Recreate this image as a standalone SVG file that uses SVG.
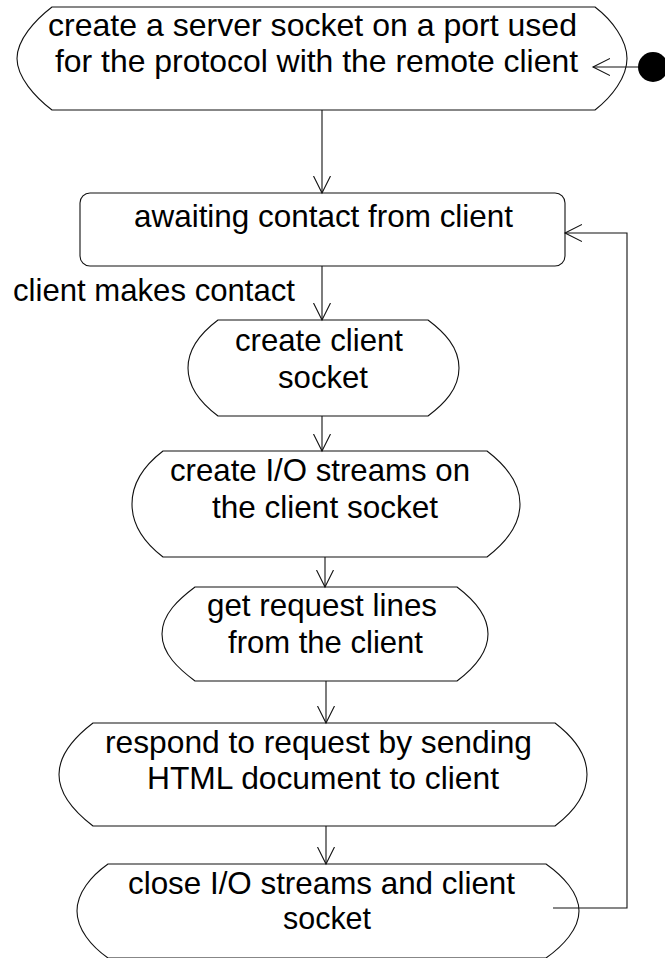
<svg xmlns="http://www.w3.org/2000/svg" width="665" height="958" viewBox="0 0 665 958">
  <style>
    .shape { fill: #fff; stroke: #111; stroke-width: 1.1; }
    .edge { fill: none; stroke: #111; stroke-width: 1.1; }
    text { font-family: "Liberation Sans", Arial, sans-serif; font-size: 32px; fill: #000; }
  </style>
  <defs>
    <marker id="open-arrow" markerUnits="userSpaceOnUse" markerWidth="20" markerHeight="20" refX="17" refY="9" orient="auto">
      <path d="M0,0.5 L17,9 L0,17.5" fill="none" stroke="#111" stroke-width="1.1"/>
    </marker>
  </defs>
  <rect width="665" height="958" fill="#fff"/>

  <!-- action states -->
  <g id="create-server-socket">
    <path class="shape" d="M52,7 H595 C612,20 627,40 627,58.5 C627,77 612,97 595,110 H52 C35,97 17,77 17,58.5 C17,40 35,20 52,7 Z"/>
    <text x="48" y="36" textLength="529" lengthAdjust="spacingAndGlyphs">create a server socket on a port used</text>
    <text x="55" y="72" textLength="523" lengthAdjust="spacingAndGlyphs">for the protocol with the remote client</text>
  </g>

  <g id="awaiting-contact">
    <rect class="shape" x="80" y="193" width="485" height="73" rx="10"/>
    <text x="134" y="227" textLength="379" lengthAdjust="spacingAndGlyphs">awaiting contact from client</text>
  </g>

  <g id="create-client-socket">
    <path class="shape" d="M218,320 H428 C444,332 459,347 459,368 C459,389 444,404 428,416 H218 C202,404 188,389 188,368 C188,347 202,332 218,320 Z"/>
    <text x="235" y="351" textLength="168" lengthAdjust="spacingAndGlyphs">create client</text>
    <text x="278" y="388" textLength="90" lengthAdjust="spacingAndGlyphs">socket</text>
  </g>

  <g id="create-io-streams">
    <path class="shape" d="M163,451 H487 C504,464 520,481 520,504 C520,527 504,544 487,557 H163 C146,544 132,527 132,504 C132,481 146,464 163,451 Z"/>
    <text x="170" y="481" textLength="300" lengthAdjust="spacingAndGlyphs">create I/O streams on</text>
    <text x="212" y="518" textLength="226" lengthAdjust="spacingAndGlyphs">the client socket</text>
  </g>

  <g id="get-request-lines">
    <path class="shape" d="M195,587 H457 C473,599 488,614 488,634 C488,654 473,669 457,681 H195 C179,669 162,654 162,634 C162,614 179,599 195,587 Z"/>
    <text x="207" y="616" textLength="230" lengthAdjust="spacingAndGlyphs">get request lines</text>
    <text x="228" y="653" textLength="195" lengthAdjust="spacingAndGlyphs">from the client</text>
  </g>

  <g id="respond-to-request">
    <path class="shape" d="M93,723 H555 C572,736 587,754 587,774.5 C587,795 572,813 555,826 H93 C76,813 59,795 59,774.5 C59,754 76,736 93,723 Z"/>
    <text x="105" y="753" textLength="427" lengthAdjust="spacingAndGlyphs">respond to request by sending</text>
    <text x="147" y="789" textLength="352" lengthAdjust="spacingAndGlyphs">HTML document to client</text>
  </g>

  <g id="close-streams">
    <path class="shape" d="M108,864 H546 C563,876 579,893 579,911 C579,929 563,946 546,958 H108 C91,946 77,929 77,911 C77,893 91,876 108,864 Z"/>
    <text x="128" y="894" textLength="387" lengthAdjust="spacingAndGlyphs">close I/O streams and client</text>
    <text x="283" y="929" textLength="88" lengthAdjust="spacingAndGlyphs">socket</text>
  </g>

  <!-- initial state -->
  <g id="start">
    <circle cx="653" cy="67" r="15" fill="#000"/>
  </g>

  <!-- transitions -->
  <g id="connectors">
    <path class="edge" d="M638,67 H593" marker-end="url(#open-arrow)"/>
    <path class="edge" d="M322,110 V193" marker-end="url(#open-arrow)"/>
    <path class="edge" d="M322,266 V320" marker-end="url(#open-arrow)"/>
    <path class="edge" d="M322,416 V451" marker-end="url(#open-arrow)"/>
    <path class="edge" d="M325,557 V587" marker-end="url(#open-arrow)"/>
    <path class="edge" d="M326,681 V723" marker-end="url(#open-arrow)"/>
    <path class="edge" d="M326,826 V864" marker-end="url(#open-arrow)"/>
    <path class="edge" d="M553,908 H627 V233 H565" marker-end="url(#open-arrow)"/>
    <text x="13" y="301" textLength="282" lengthAdjust="spacingAndGlyphs">client makes contact</text>
  </g>
</svg>
